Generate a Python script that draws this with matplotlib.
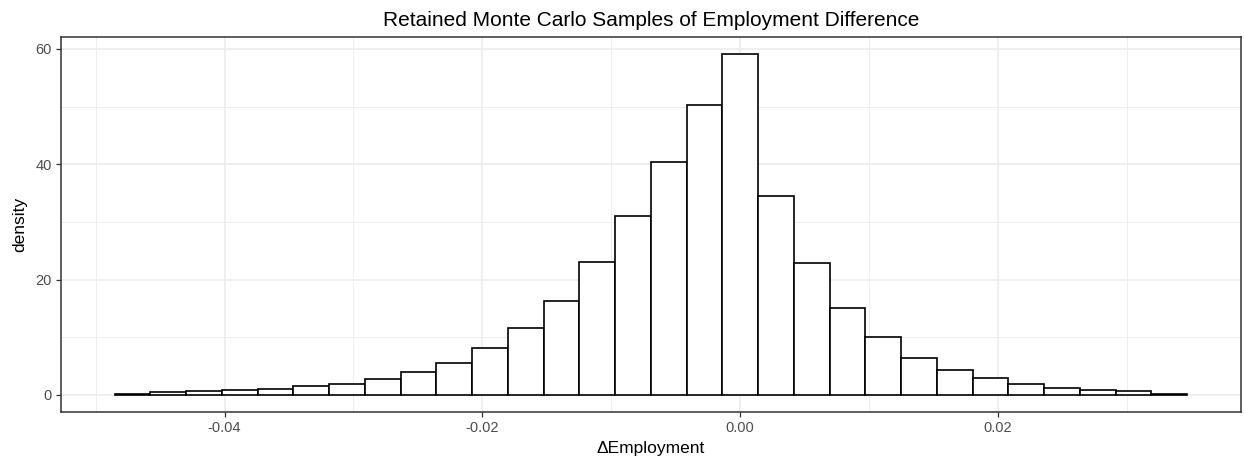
import numpy as np
import matplotlib
matplotlib.use("Agg")
import matplotlib.pyplot as plt
from matplotlib.ticker import MultipleLocator

plt.rcParams['font.family'] = ['Liberation Sans', 'DejaVu Sans']

# histogram of retained samples (30 bins, one centred on zero)
bin_width = 0.002773
n_left = 17.5  # bins (in widths) left of zero
density = [0.17, 0.46, 0.64, 0.92, 1.1, 1.5, 1.85, 2.71, 3.98, 5.6,
           8.08, 11.54, 16.27, 23.0, 31.0, 40.4, 50.3, 59.1, 34.56, 22.8,
           15.0, 10.1, 6.4, 4.33, 2.89, 1.85, 1.21, 0.87, 0.64, 0.17]
x_ticks = [-0.04, -0.02, 0.00, 0.02]
x_ticklabels = ["-0.04", "-0.02", "0.00", "0.02"]
y_ticks = [0, 20, 40, 60]

edges = -n_left * bin_width + bin_width * np.arange(len(density) + 1)

fig = plt.figure(figsize=(12.44, 4.65), dpi=100)
ax = fig.add_axes([0.0490, 0.1140, 0.9484, 0.8064])

ax.bar(edges[:-1], density, width=bin_width, align='edge',
       color='white', edgecolor='black', linewidth=1.2, zorder=3)

# ggplot style 5% expansion
xr = edges[-1] - edges[0]
ax.set_xlim(edges[0] - 0.05 * xr, edges[-1] + 0.05 * xr)
ymax = max(density)
ax.set_ylim(-0.05 * ymax, ymax * 1.05)

ax.set_xticks(x_ticks)
ax.set_xticklabels(x_ticklabels)
ax.set_yticks(y_ticks)
ax.xaxis.set_minor_locator(MultipleLocator(0.01))
ax.yaxis.set_minor_locator(MultipleLocator(10))
ax.tick_params(which='minor', length=0)
ax.tick_params(which='major', length=3.5, width=0.9, color='#333333',
               labelcolor='#4D4D4D', labelsize=10.5, pad=3)

ax.grid(which='major', color='#EBEBEB', linewidth=1.1, zorder=0)
ax.grid(which='minor', color='#EBEBEB', linewidth=0.6, zorder=0)
ax.set_axisbelow(True)
for s in ax.spines.values():
    s.set_color('#333333')
    s.set_linewidth(1.1)

ax.set_xlabel("\u0394Employment", fontsize=12.5, labelpad=4)
ax.set_ylabel("density", fontsize=12.5, labelpad=6)
ax.set_title("Retained Monte Carlo Samples of Employment Difference",
             fontsize=15, pad=8)

fig.savefig("out.png", dpi=100)
